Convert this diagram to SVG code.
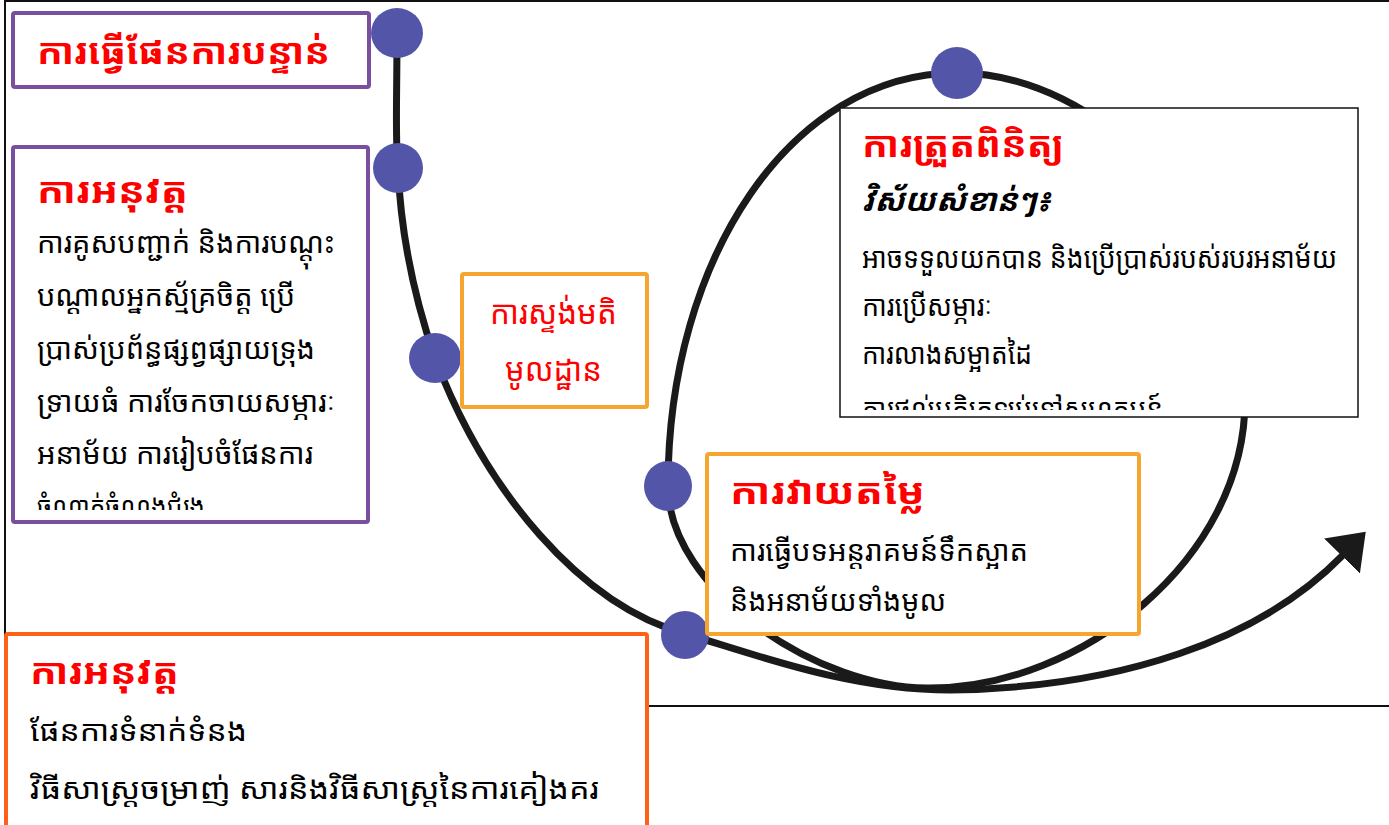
<svg xmlns="http://www.w3.org/2000/svg" width="1389" height="825" viewBox="0 0 1389 825">
<style>
text{font-family:"Noto Sans Khmer","Khmer OS","Noto Sans","DejaVu Sans",sans-serif;}
.ttl{fill:#ff0000;font-weight:bold;font-size:36px;}
.sub{fill:#ff0000;font-size:33px;}
.body{fill:#000;font-size:29px;}
.it{fill:#000;font-weight:bold;font-style:italic;font-size:31px;}
.purple{fill:#fff;stroke:#7a4f9e;stroke-width:4;}
.orange{fill:#fff;stroke:#f6a52e;stroke-width:4;}
.red{fill:#fff;stroke:#ff6118;stroke-width:4;}
.plain{fill:#fff;stroke:#111;stroke-width:1.5;}
.curve{fill:none;stroke:#1a1a1a;stroke-width:7;stroke-linecap:round;}
.dot{fill:#5356a8;}
</style>
<defs>
<marker id="ah" viewBox="0 0 10 10" refX="0" refY="5" markerWidth="34" markerHeight="50" markerUnits="userSpaceOnUse" orient="auto" preserveAspectRatio="none">
<path d="M0,0 L10,5 L0,10 z" fill="#1a1a1a"/>
</marker>
<clipPath id="c2"><rect x="14" y="148" width="352" height="362"/></clipPath>
<clipPath id="c4"><rect x="841" y="109" width="516" height="301"/></clipPath>
</defs>
<rect width="1389" height="825" fill="#fff"/>
<g id="frame">
<rect x="5" y="1" width="1400" height="705" fill="none" stroke="#111" stroke-width="2"/>
</g>
<g id="connectors">
<path class="curve" d="M397,33 C397,100 395,140 398,168 C401,240 415,300 435,358 C485,490 580,605 686,634 C760,656 850,690 950,690 C1120,688 1260,640 1342,556" marker-end="url(#ah)"/>
<path class="curve" d="M930,688 C820,690 668,590 668,486 C668,260 790,73 957,73 C1100,73 1245,220 1245,400 C1245,560 1080,688 930,688 Z"/>
</g>
<g id="dots">
<ellipse class="dot" cx="397" cy="33" rx="26" ry="25"/>
<ellipse class="dot" cx="398" cy="168" rx="25" ry="25"/>
<ellipse class="dot" cx="435" cy="358" rx="26" ry="25"/>
<ellipse class="dot" cx="668" cy="486" rx="24" ry="25"/>
<ellipse class="dot" cx="685" cy="635" rx="24" ry="24"/>
<ellipse class="dot" cx="957" cy="73" rx="26" ry="26"/>
</g>
<g id="node-plan">
<rect class="purple" x="13" y="13" width="356" height="74" rx="2"/>
<text class="ttl" x="37" y="64" textLength="293" lengthAdjust="spacingAndGlyphs">ការធ្វើផែនការបន្ទាន់</text>
</g>
<g id="node-implement1">
<rect class="purple" x="13" y="147" width="355" height="375" rx="2"/>
<g clip-path="url(#c2)">
<text class="ttl" x="37" y="203" textLength="151" lengthAdjust="spacingAndGlyphs">ការអនុវត្ត</text>
<text class="body" x="37" y="253" textLength="298" lengthAdjust="spacingAndGlyphs">ការគូសបញ្ជាក់ និងការបណ្ដុះ</text>
<text class="body" x="37" y="306" textLength="258" lengthAdjust="spacingAndGlyphs">បណ្ដាលអ្នកស្ម័គ្រចិត្ត ប្រើ</text>
<text class="body" x="37" y="359" textLength="278" lengthAdjust="spacingAndGlyphs">ប្រាស់ប្រព័ន្ធផ្សព្វផ្សាយទ្រុង</text>
<text class="body" x="37" y="412" textLength="298" lengthAdjust="spacingAndGlyphs">ទ្រាយធំ ការចែកចាយសម្ភារៈ</text>
<text class="body" x="37" y="464" textLength="276" lengthAdjust="spacingAndGlyphs">អនាម័យ ការរៀបចំផែនការ</text>
<text class="body" x="37" y="517" textLength="168" lengthAdjust="spacingAndGlyphs">ចំណាត់ចំណងជំរុង</text>
</g>
</g>
<g id="node-survey">
<rect class="orange" x="462" y="274" width="185" height="133" rx="2"/>
<text class="sub" x="490" y="324" textLength="127" lengthAdjust="spacingAndGlyphs">ការស្ទង់មតិ</text>
<text class="sub" x="505" y="381" textLength="97" lengthAdjust="spacingAndGlyphs">មូលដ្ឋាន</text>
</g>
<g id="node-monitor">
<rect class="plain" x="840" y="108" width="518" height="309"/>
<g clip-path="url(#c4)">
<text class="ttl" x="862" y="157" textLength="202" lengthAdjust="spacingAndGlyphs">ការត្រួតពិនិត្យ</text>
<text class="it" x="862" y="211" textLength="189" lengthAdjust="spacingAndGlyphs">វិស័យសំខាន់ៗ៖</text>
<text class="body" x="862" y="268" textLength="475" lengthAdjust="spacingAndGlyphs">អាចទទួលយកបាន និងប្រើប្រាស់របស់របរអនាម័យ</text>
<text class="body" x="862" y="316" textLength="130" lengthAdjust="spacingAndGlyphs">ការប្រើសម្ភារៈ</text>
<text class="body" x="862" y="364" textLength="170" lengthAdjust="spacingAndGlyphs">ការលាងសម្អាតដៃ</text>
<text class="body" x="862" y="419" textLength="301" lengthAdjust="spacingAndGlyphs">ការផ្ដល់មតិត្រឡប់ទៅសហគមន៍</text>
</g>
</g>
<g id="node-evaluate">
<rect class="orange" x="707" y="454" width="432" height="180" rx="2"/>
<text class="ttl" x="730" y="504" textLength="195" lengthAdjust="spacingAndGlyphs">ការវាយតម្លៃ</text>
<text class="body" x="730" y="561" textLength="298" lengthAdjust="spacingAndGlyphs">ការធ្វើបទអន្តរាគមន៍ទឹកស្អាត</text>
<text class="body" x="730" y="611" textLength="216" lengthAdjust="spacingAndGlyphs">និងអនាម័យទាំងមូល</text>
</g>
<g id="node-implement2">
<rect class="red" x="6" y="634" width="641" height="200" rx="2"/>
<text class="ttl" x="30" y="684" textLength="149" lengthAdjust="spacingAndGlyphs">ការអនុវត្ត</text>
<text class="body" x="30" y="741" textLength="217" lengthAdjust="spacingAndGlyphs">ផែនការទំនាក់ទំនង</text>
<text class="body" x="30" y="799" textLength="569" lengthAdjust="spacingAndGlyphs">វិធីសាស្ត្រចម្រាញ់ សារនិងវិធីសាស្ត្រនៃការគៀងគរ</text>
</g>
</svg>
